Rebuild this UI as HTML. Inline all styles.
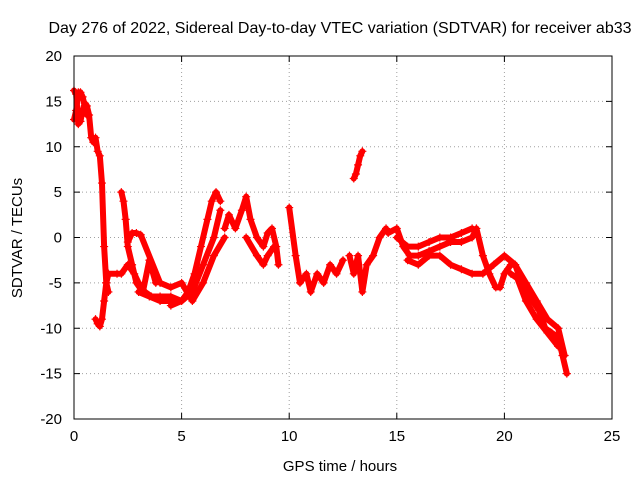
<!DOCTYPE html>
<html><head><meta charset="utf-8"><style>
body{margin:0;background:#fff;}
svg text{font-family:"Liberation Sans",sans-serif;font-size:15px;fill:#000;}
</style></head><body>
<svg id="chart" width="640" height="480" xmlns="http://www.w3.org/2000/svg">
<text x="340" y="33" text-anchor="middle" style="font-size:16px">Day 276 of 2022, Sidereal Day-to-day VTEC variation (SDTVAR) for receiver ab33</text>
<text x="340" y="471" text-anchor="middle">GPS time / hours</text>
<text transform="translate(22,238) rotate(-90)" text-anchor="middle">SDTVAR / TECUs</text>
<g id="grid"></g>
<g id="ticks"></g>
<g id="series"></g>
<rect x="74" y="56" width="538" height="363" fill="none" stroke="#000" stroke-width="1"/>
</svg>
<script>
const xTicks=[0,5,10,15,20,25];
const yTicks=[-20,-15,-10,-5,0,5,10,15,20];
const trackA_t=[0,0.1,0.2,0.3,0.4,0.5,0.6,0.7,0.8,0.9,1.0,1.1,1.2,1.3,1.4,1.5,1.6];
const trackA_v=[16.2,15.8,12.5,12.8,14,14.8,14.5,13.5,11,10.5,11,9.5,9,6,-1,-5,-6];
const trackA2_t=[0,0.1,0.2,0.3,0.4,0.5,0.6];
const trackA2_v=[13,14,16,16,15.5,14.5,13.5];
const trackB_t=[1.0,1.1,1.2,1.3,1.4,1.5,1.6];
const trackB_v=[-9,-9.5,-9.8,-9,-7,-5,-4];
const trackC_t=[1.6,2.0,2.2,2.5,2.8,3.0,3.3,3.6,4.0,4.5,5.0,5.3,5.6,5.9,6.2,6.4,6.6,6.8];
const trackC_v=[-4,-4,-4,-3,-4,-5,-6,-6.5,-6.5,-6.5,-7,-6,-4,-1,2,4,5,4];
const trackD_t=[2.2,2.3,2.4,2.5,2.7,2.9,3.2,3.5,3.8];
const trackD_v=[5,4,2,-1,-3,-5,-6,-2.5,-5];
const trackE_t=[2.5,2.7,2.9,3.1,4.0,4.5,5.0,5.5,6.0,6.5,7.0];
const trackE_v=[-0.5,0.5,0.5,0.3,-5,-5.5,-5,-7,-5,-2,0];
const trackL_t=[4.5,5.0,5.5,6.0,6.5,6.8];
const trackL_v=[-7.5,-7,-6,-3,0,3];
const trackM_t=[3.0,3.5,4.0,4.5];
const trackM_v=[-6,-6.5,-7,-7];
const trackF_t=[7.0,7.2,7.5,7.8,8.0,8.2,8.5,8.8,9.0,9.2,9.4,9.5];
const trackF_v=[1,2.5,1,3,4.5,2,0,-1,0.5,1,-1,-3];
const trackF2_t=[8.0,8.5,8.8,9.0,9.3];
const trackF2_v=[0,-2,-3,-2,-1];
const trackG_t=[10.0,10.3,10.5,10.8,11.0,11.3,11.6,11.9,12.2,12.5];
const trackG_v=[3.3,-2,-5,-4,-6,-4,-5,-3,-4,-2.5];
const trackH_t=[13.0,13.1,13.2,13.3,13.4];
const trackH_v=[6.5,7,8,9,9.5];
const trackI_t=[12.8,13.0,13.2,13.4,13.6,13.9,14.2,14.5];
const trackI_v=[-2,-4,-2,-6,-3,-2,0,1];
const trackJ_t=[14.6,15,15.3,15.6,16,16.5,17,17.5,18,18.5,18.7,19,19.3,19.6,19.8,20,20.3,20.5,20.8,21,21.3,21.6,21.9,22.2,22.5,22.7,22.9];
const trackJ_v=[0.5,1,-1,-2,-2,-1.5,-1,-0.5,-0.5,0,1,-2,-4,-5.5,-5.5,-4,-3,-3,-5,-6,-7,-8,-10,-10.5,-11,-13,-15];
const trackK_t=[15.5,16,16.5,17,17.5,18,18.5,19,19.5,20,20.5,21,21.5,22,22.5,22.8];
const trackK_v=[-2.5,-3,-2,-2,-3,-3.5,-4,-4,-3,-2,-3,-5,-7,-9,-10,-13];
const trackN_t=[15,15.5,16,16.5,17,17.5,18,18.5];
const trackN_v=[0,-1,-1,-0.5,0,0,0.5,1];
const trackO_t=[20.3,20.6,21,21.5,22,22.5];
const trackO_v=[-4,-4.5,-7,-9,-10.5,-12];
const tracks=[[trackA_t,trackA_v],[trackA2_t,trackA2_v],[trackB_t,trackB_v],[trackC_t,trackC_v],[trackD_t,trackD_v],[trackE_t,trackE_v],[trackL_t,trackL_v],[trackM_t,trackM_v],[trackF_t,trackF_v],[trackF2_t,trackF2_v],[trackG_t,trackG_v],[trackH_t,trackH_v],[trackI_t,trackI_v],[trackJ_t,trackJ_v],[trackK_t,trackK_v],[trackN_t,trackN_v],[trackO_t,trackO_v]];
const X=v=>74+(v-0)/25*538;
const Y=v=>419-(v+20)/40*363;
const NS="http://www.w3.org/2000/svg";
function mk(tag,attrs,parent){const e=document.createElementNS(NS,tag);for(const k in attrs)e.setAttribute(k,attrs[k]);parent.appendChild(e);return e;}
const grid=document.getElementById('grid'),ticks=document.getElementById('ticks'),series=document.getElementById('series');
xTicks.forEach(t=>{
  if(t>0&&t<25){const l=mk('line',{x1:X(t),x2:X(t),y1:56,y2:419,stroke:'#a0a0a0','stroke-dasharray':'1,3'},grid);
  
  }
  const tx=mk('text',{x:X(t),y:441,'text-anchor':'middle'},ticks);tx.textContent=t;
  
  
  mk('line',{x1:X(t),x2:X(t),y1:419,y2:413,stroke:'#000'},ticks);
  mk('line',{x1:X(t),x2:X(t),y1:56,y2:62,stroke:'#000'},ticks);
});
yTicks.forEach(t=>{
  if(t>-20&&t<20){const l=mk('line',{x1:74,x2:612,y1:Y(t),y2:Y(t),stroke:'#a0a0a0','stroke-dasharray':'1,3'},grid);
  
  }
  const tx=mk('text',{x:62,y:Y(t)+5,'text-anchor':'end'},ticks);tx.textContent=t;
  
  
  mk('line',{x1:74,x2:80,y1:Y(t),y2:Y(t),stroke:'#000'},ticks);
  mk('line',{x1:606,x2:612,y1:Y(t),y2:Y(t),stroke:'#000'},ticks);
});
tracks.forEach(([ts,vs])=>{
  const pts=ts.map((t,i)=>X(t)+','+Y(vs[i])).join(' ');
  const pl=mk('polyline',{points:pts,fill:'none',stroke:'#f00','stroke-width':6,'stroke-linejoin':'round','stroke-linecap':'round'},series);
  
  
  ts.forEach((t,i)=>{
    const x=X(t),y=Y(vs[i]);
    const p=mk('path',{d:`M${x-4},${y}H${x+4}M${x},${y-4}V${y+4}`,stroke:'#f00','stroke-width':1.2},series);
    
    
  });
});
</script>
</body></html>
